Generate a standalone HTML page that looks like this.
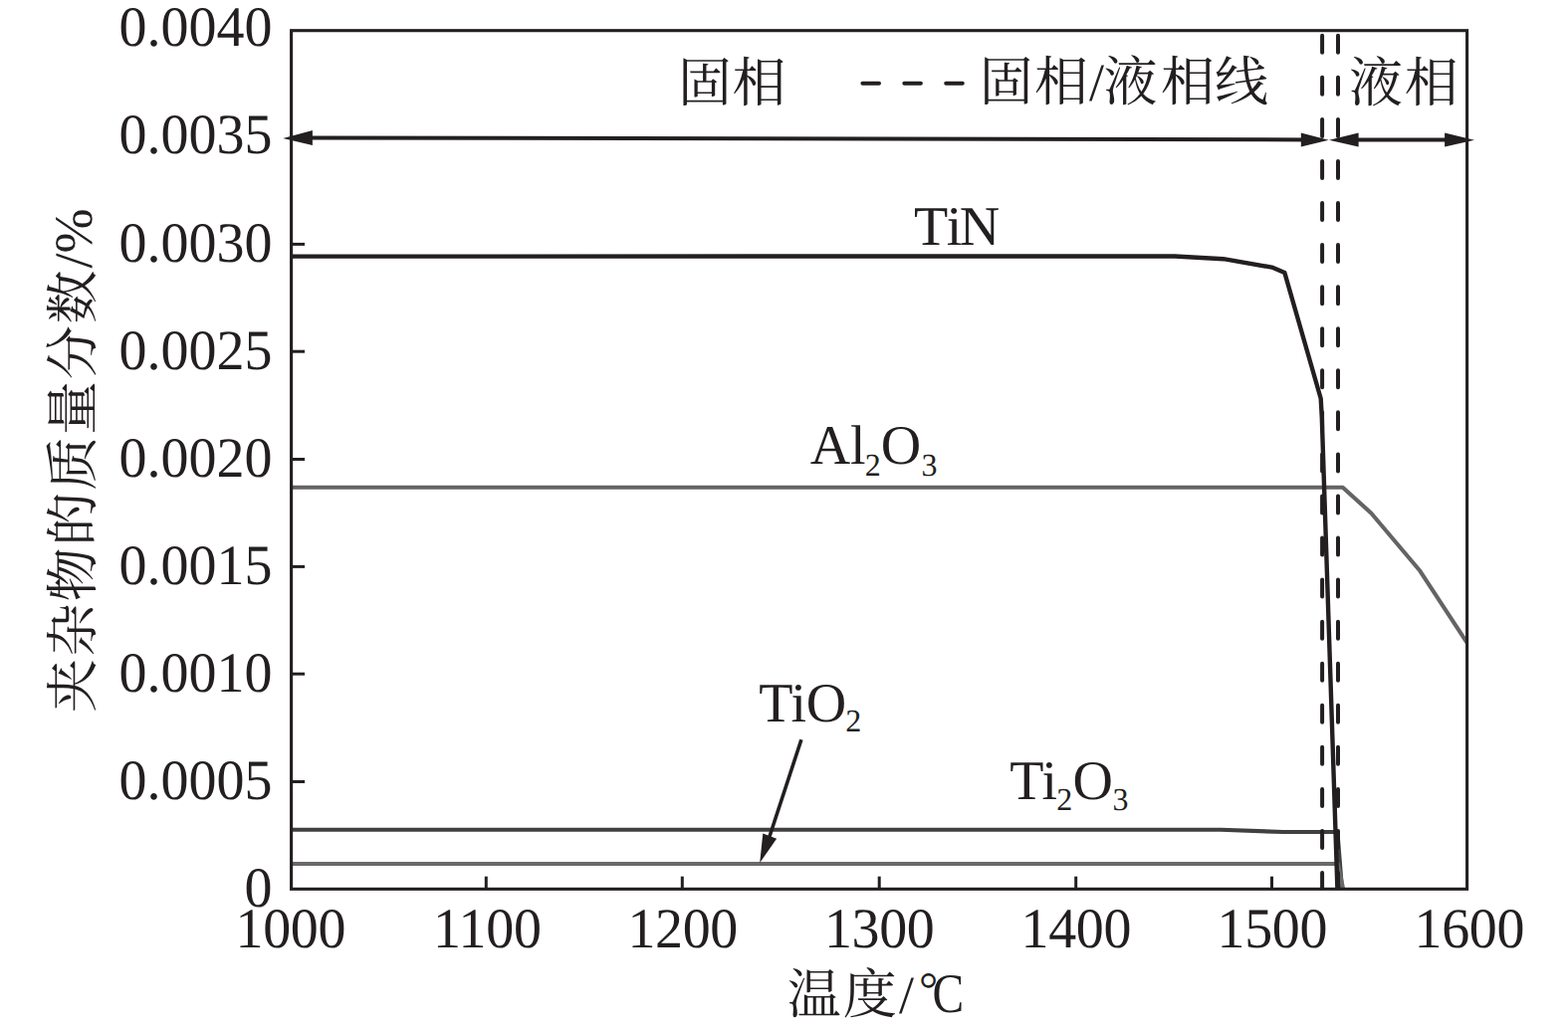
<!DOCTYPE html>
<html lang="zh"><head><meta charset="utf-8"><title>夹杂物的质量分数 - 温度</title>
<style>html,body{margin:0;padding:0;background:#fff}body{width:1575px;height:1034px;overflow:hidden}svg{display:block;position:absolute;left:0;top:0}text{font-family:"Liberation Serif","Noto Serif CJK SC",serif;fill:#231f20;text-rendering:geometricPrecision}.n{font-size:56px}.s{font-size:32px}.c{font-size:54px}</style></head><body>
<svg width="1575" height="1034" viewBox="0 0 1575 1034">
<rect x="0" y="0" width="1575" height="1034" fill="#fff"/>
<clipPath id="pc"><rect x="292.6" y="30.7" width="1181.0" height="862.65"/></clipPath>
<g fill="none" stroke-linejoin="round" clip-path="url(#pc)">
<polyline stroke="#656364" stroke-width="4.1" points="292.6,489.8 1348.7,489.8 1377.4,515.7 1426.4,573.8 1473.6,646"/>
<polyline stroke="#414041" stroke-width="4.1" points="292.6,833.8 1226,833.8 1289,836 1343.4,836 1348,893.35"/>
<polyline stroke="#6a6869" stroke-width="4" points="292.6,868 1344,868 1349.2,893.35"/>
<polyline stroke="#231f20" stroke-width="4.4" points="292.6,257.6 1180,257.5 1228.8,260.2 1277.5,268.6 1290.4,274.1 1326.7,400.5 1327.8,420 1343.4,893.35"/>
</g>
<g stroke="#231f20" stroke-width="4" stroke-linecap="round" stroke-dasharray="17 25.06" fill="none" clip-path="url(#pc)">
<line x1="1328.1" y1="35.8" x2="1328.1" y2="893.35"/>
<line x1="1344" y1="35.8" x2="1344" y2="893.35"/>
<line x1="866.4" y1="83.7" x2="975" y2="83.7" stroke-dasharray="16.6 25.3"/>
</g>
<rect x="292.6" y="30.7" width="1181.0" height="862.65" fill="none" stroke="#231f20" stroke-width="3.1"/>
<g stroke="#231f20" stroke-width="3" fill="none">
<line x1="292.6" y1="245.4" x2="306.1" y2="245.4"/>
<line x1="292.6" y1="353.2" x2="306.1" y2="353.2"/>
<line x1="292.6" y1="461.5" x2="306.1" y2="461.5"/>
<line x1="292.6" y1="569.4" x2="306.1" y2="569.4"/>
<line x1="292.6" y1="677.2" x2="306.1" y2="677.2"/>
<line x1="292.6" y1="785.5" x2="306.1" y2="785.5"/>
<line x1="488.3" y1="893.35" x2="488.3" y2="880.7"/>
<line x1="685.3" y1="893.35" x2="685.3" y2="880.7"/>
<line x1="883.2" y1="893.35" x2="883.2" y2="880.7"/>
<line x1="1080.7" y1="893.35" x2="1080.7" y2="880.7"/>
<line x1="1277.5" y1="893.35" x2="1277.5" y2="880.7"/>
</g>
<g stroke="#231f20" stroke-width="4" fill="none">
<line x1="300" y1="138.4" x2="1320" y2="140.4"/>
<line x1="1350" y1="140.45" x2="1465" y2="140.6"/>
</g>
<g fill="#231f20" stroke="none">
<polygon points="284.3,139 313.9,131 313.9,146.1"/>
<polygon points="1334.6,140.7 1306.8,133.6 1306.8,147.6"/>
<polygon points="1335,140.7 1364.6,133.6 1364.6,147.6"/>
<polygon points="1481,140.7 1451.1,133.6 1451.1,147.6"/>
<polygon points="763.2,866.9 766.3,837.6 780.1,842.7"/>
</g>
<line x1="804.9" y1="743.2" x2="772.5" y2="842" stroke="#231f20" stroke-width="3.6"/>
<text class="n" transform="translate(273.4 46.40) scale(1 1.021)" text-anchor="end">0.0040</text>
<text class="n" transform="translate(273.4 154.46) scale(1 1.021)" text-anchor="end">0.0035</text>
<text class="n" transform="translate(273.4 262.52) scale(1 1.021)" text-anchor="end">0.0030</text>
<text class="n" transform="translate(273.4 370.58) scale(1 1.021)" text-anchor="end">0.0025</text>
<text class="n" transform="translate(273.4 478.64) scale(1 1.021)" text-anchor="end">0.0020</text>
<text class="n" transform="translate(273.4 586.70) scale(1 1.021)" text-anchor="end">0.0015</text>
<text class="n" transform="translate(273.4 694.76) scale(1 1.021)" text-anchor="end">0.0010</text>
<text class="n" transform="translate(273.4 802.82) scale(1 1.021)" text-anchor="end">0.0005</text>
<text class="n" transform="translate(273.4 910.88) scale(1 1.021)" text-anchor="end">0</text>
<text class="n" letter-spacing="-0.35" transform="translate(291.80 952.1) scale(1 1.021)" text-anchor="middle">1000</text>
<text class="n" letter-spacing="-0.35" transform="translate(489.30 952.1) scale(1 1.021)" text-anchor="middle">1100</text>
<text class="n" letter-spacing="-0.35" transform="translate(685.70 952.1) scale(1 1.021)" text-anchor="middle">1200</text>
<text class="n" letter-spacing="-0.35" transform="translate(883.20 952.1) scale(1 1.021)" text-anchor="middle">1300</text>
<text class="n" letter-spacing="-0.35" transform="translate(1080.80 952.1) scale(1 1.021)" text-anchor="middle">1400</text>
<text class="n" letter-spacing="-0.35" transform="translate(1277.80 952.1) scale(1 1.021)" text-anchor="middle">1500</text>
<text class="n" letter-spacing="-0.35" transform="translate(1475.80 952.1) scale(1 1.021)" text-anchor="middle">1600</text>
<text class="n" x="918.05" y="245.90">T</text><text class="n" x="950.64" y="245.90">i</text><text class="n" x="963.80" y="245.90">N</text>
<text class="n" x="813.66" y="466.40">Al</text><text class="s" x="868.70" y="477.90">2</text><text class="n" x="884.64" y="466.40">O</text><text class="s" x="925.47" y="477.90">3</text>
<text class="n" x="762.20" y="724.50">Ti</text><text class="n" x="809.74" y="724.50">O</text><text class="s" x="849.20" y="735.00">2</text>
<text class="n" x="1014.20" y="802.90">Ti</text><text class="s" x="1061.30" y="814.00">2</text><text class="n" x="1077.54" y="802.90">O</text><text class="s" x="1117.47" y="814.00">3</text>
<text class="c" y="102"><tspan x="681">固</tspan><tspan x="735.5">相</tspan></text>
<text class="c" y="101.4"><tspan x="983.8">固</tspan><tspan x="1039">相</tspan><tspan x="1094">/</tspan><tspan x="1108.6">液</tspan><tspan x="1166">相</tspan><tspan x="1219.9">线</tspan></text>
<text class="c" y="102"><tspan x="1355">液</tspan><tspan x="1410.7">相</tspan></text>
<text class="c" y="1018.4"><tspan x="790.7">温</tspan><tspan x="846.8">度</tspan><tspan x="903">/</tspan></text>
<text class="c" transform="translate(92.3 716) rotate(-90)"><tspan letter-spacing="1.8">夹杂物的质量分数</tspan><tspan>/%</tspan></text>
<text x="923" y="1010" font-size="48">°</text>
<text class="n" transform="translate(936.6 1017) scale(0.85 1)">C</text>
</svg></body></html>
